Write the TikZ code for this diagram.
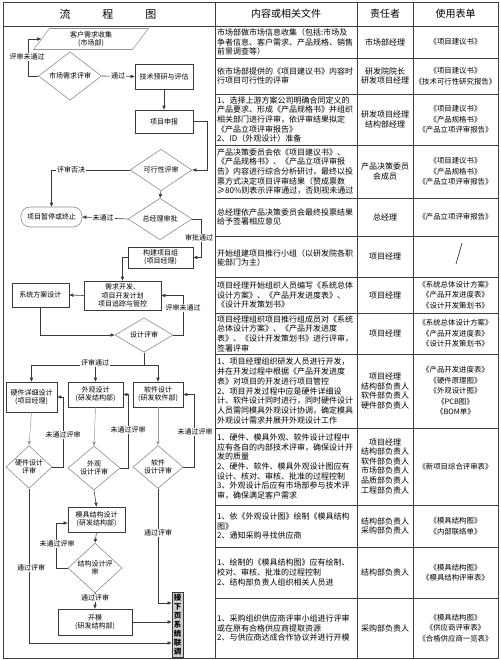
\documentclass[tikz,border=0pt]{standalone}
\usepackage{fontspec}
\setmainfont{Noto Sans CJK SC}
\usetikzlibrary{positioning,arrows.meta,shapes.geometric}
\definecolor{lnk}{HTML}{3A3A3A}
\definecolor{rim}{HTML}{8C8C8C}
\definecolor{shd}{HTML}{CFCFCF}
\newcommand{\flw}{\fontsize{7}{8.4}\selectfont}
\newcommand{\cel}{\fontsize{8}{9.7}\selectfont}
\newcommand{\frm}{\fontsize{7.4}{10.5}\selectfont}

\begin{document}
\begin{tikzpicture}[x=1pt,y=-1pt,
  grd/.style={draw=black!75,line width=0.8pt},
  hd/.style={font=\fontsize{10}{10}\selectfont,inner sep=0pt},
  box/.style={draw=lnk,line width=0.7pt,fill=white,align=center,font=\flw,inner sep=1pt},
  dia/.style={diamond,draw=rim,line width=0.6pt,fill=white,align=center,font=\flw,inner sep=0pt},
  term/.style={draw=rim,line width=0.6pt,rounded corners=9pt,align=center,font=\flw},
  arr/.style={draw=lnk,line width=0.6pt,-{Triangle[length=4pt,width=3.2pt]}},
  thin/.style={draw=black!40,line width=0.5pt,-{Triangle[length=4pt,width=3.2pt]}},
  lbl/.style={fill=white,font=\flw,inner sep=1pt},
  cell/.style={font=\cel,inner sep=0pt,align=left,anchor=west},
  who/.style={font=\fontsize{8}{9.6}\selectfont,inner sep=0pt,align=center},
  doc/.style={font=\frm,inner sep=0pt,align=center}]
  \useasboundingbox (0,0) rectangle (500,660);
  % table frame
  \draw[grd] (3,2) rectangle (498,658);
  \draw[grd] (3,26) -- (498,26);
  \foreach \x in {215,357,413} \draw[grd] (\x,2) -- (\x,658);
  \foreach \y in {58,94,145,198,236,277,313,354,428,505,547,598}
    \draw[grd] (215,\y) -- (498,\y);
  \node[font=\fontsize{11}{11}\selectfont,inner sep=0pt] (h0) at (108,14) {流\hspace{32pt}程\hspace{32pt}图};
  \node[hd] (h1) at (286,14) {内容或相关文件};
  \node[hd] (h2) at (385,14) {责任者};
  \node[hd] (h3) at (455.5,14) {使用表单};

  % flow chart
  \node[trapezium,trapezium left angle=63,trapezium right angle=117,trapezium stretches=true,
    draw=black!40,line width=0.6pt,minimum width=115pt,minimum height=21pt,inner sep=0pt,
    align=center,font=\flw] (need) at (91,39) {客户需求收集\\(市场部)};
  \node[dia,minimum width=63pt,minimum height=26pt] (mkt) at (70,76) {市场需求评审};
  \node[box,minimum width=58pt,minimum height=25pt] (pre) at (164,76.5) {技术预研与评估};
  \node[box,minimum width=58pt,minimum height=23pt] (app) at (164,121.5) {项目申报};
  \node[dia,minimum width=62pt,minimum height=30pt] (feas) at (161,170) {可行性评审};
  \node[term,minimum width=61pt,minimum height=20pt] (stop) at (51.5,217) {项目暂停或终止};
  \node[dia,minimum width=64pt,minimum height=32pt] (gm) at (160,219) {总经理审批};
  \node[box,minimum width=65pt,minimum height=21pt] (team) at (160.5,257.5) {构建项目组\\(项目经理)};
  \node[box,minimum width=77pt,minimum height=29pt] (dev) at (122.5,295.5) {需求开发、\\项目开发计划\\项目追踪与管控};
  \node[box,minimum width=57pt,minimum height=24pt] (sys) at (40.5,295) {系统方案设计};
  \node[dia,minimum width=58pt,minimum height=29pt] (drv) at (144,335) {设计评审};
  \node[box,minimum width=51pt,minimum height=30pt] (hw) at (31.5,397) {硬件详细设计\\(项目经理)};
  \node[box,minimum width=55pt,minimum height=25pt] (od) at (95.5,394.5) {外观设计\\(研发结构部)};
  \node[box,minimum width=50pt,minimum height=25pt] (sw) at (158,394.5) {软件设计\\(研发软件部)};
  \node[dia,minimum width=46pt,minimum height=41pt] (hwr) at (29,467) {硬件设计\\评审};
  \node[dia,minimum width=52pt,minimum height=44pt] (odr) at (94,468) {外观\\设计评审};
  \node[dia,minimum width=50pt,minimum height=41pt] (swr) at (158,467) {软件\\设计评审};
  \node[box,minimum width=57pt,minimum height=25pt] (mold) at (96.5,519.5) {模具结构设计\\(研发结构部)};
  \node[dia,minimum width=54pt,minimum height=39pt] (mr) at (95,568) {结构设计评\\审};
  \node[box,minimum width=74pt,minimum height=26pt] (open) at (95,622) {开模\\(研发结构部)};
  \node[box,fill=shd,minimum width=11pt,minimum height=65pt,inner sep=0pt,
    font=\fontsize{7.5}{9}\selectfont\bfseries] (next) at (177.5,624.5) {接\\下\\页\\系\\统\\联\\调};

  \draw[arr] (mkt.west) -- ++(-10,0) |- (need.west);
  \draw[arr] (mkt.east) -- (pre.west);
  \draw[arr] (pre.south) -- (app.north);
  \draw[arr] (app.east) -- ++(14,0) |- (feas.east);
  \draw[arr] (feas.west) -| (stop.north);
  \draw[arr] (feas.south) -- (gm.north);
  \draw[arr] (gm.west) -- (stop.east);
  \draw[arr] (gm.east) -- ++(9,0) |- (team.east);
  \draw[arr] (team.west) -| (dev.north);
  \draw[arr] (dev.west) -- (sys.east);
  \draw[arr] (sys.south) |- (drv.west);
  \draw[arr] (drv.east) -- ++(10,0) |- (dev.east);
  \draw[lnk,line width=0.6pt] (drv.south) -- ++(0,13) coordinate (sp);
  \draw[arr] (sp) -| (hw.north);
  \draw[arr] (sp) -| (od.north);
  \draw[arr] (sp) -| (sw.north);
  \draw[thin] (hw.south) -- (hwr.north);
  \draw[thin] (od.south) -- (odr.north);
  \draw[thin] (sw.south) -- (swr.north);
  \draw[arr] (hwr.east) -- ++(11,0) |- (hw.east);
  \draw[arr] (odr.east) -- ++(8,0) |- (od.east);
  \draw[arr] (swr.east) -- ++(11,0) |- (sw.east);
  \draw[arr] (odr.south) -- (mold.north);
  \draw[arr] (mold.south) -- (mr.north);
  \draw[arr] (mr.west) -- ++(-11,0) |- ([yshift=-3.5pt]mold.west);
  \draw[arr] (mr.south) -- (open.north);
  \draw[arr] (hwr.south) |- ([yshift=-18.5pt]next.west);
  \draw[arr] (open.east) -- (open.east -| next.west);
  \draw[arr] (swr.south) |- ([yshift=21.5pt]next.west);

  \node[lbl] (l1) at (27,57) {评审未通过};
  \node[lbl] (l2) at (118,76) {通过};
  \node[lbl] (l3) at (71,170) {评审否决};
  \node[lbl] (l4) at (103,218) {未通过};
  \node[lbl] (l5) at (199,238) {审批通过};
  \node[lbl] (l6) at (183,308) {评审未通过};
  \node[lbl] (l7) at (95,363) {评审通过};
  \node[lbl] (l8) at (63,435) {未通过评审};
  \node[lbl] (l9) at (128,430) {未通过评审};
  \node[lbl] (l10) at (195,432) {未通过评审};
  \node[lbl] (l11) at (57,544) {未通过评审};
  \node[lbl] (l12) at (95,598) {通过评审};
  \node[lbl] (l13) at (31,568) {通过评审};
  \node[lbl] (l14) at (158,533) {通过评审};

  % content column
  \node[cell] (t1) at (217,42) {市场部做市场信息收集（包括:市场及\\争者信息、客户需求、产品规格、销售\\前景调查等）};
  \node[cell] (t2) at (217,76) {依市场部提供的《项目建议书》内容时\\行项目可行性的评审};
  \node[cell] (t3) at (217,119.5) {1、选择上游方案公司明确合同定义的\\产品要求、形成《产品规格书》并组织\\相关部门进行评审，依评审结果拟定\\《产品立项评审报告》\\2、ID（外观设计）准备};
  \node[cell] (t4) at (217,171.5) {产品决策委员会依《项目建议书》、\\《产品规格书》、《产品立项评审报\\告》内容进行综合分析研讨，最终以投\\票方式决定项目评审结果（赞成票数\\≥80\%则表示评审通过，否则视未通过};
  \node[cell] (t5) at (217,217) {总经理依产品决策委员会最终投票结果\\给予签署相应意见};
  \node[cell] (t6) at (217,258) {开始组建项目推行小组（以研发院各职\\能部门为主）};
  \node[cell] (t7) at (217,295) {项目经理开始组织人员编写《系统总体\\设计方案》、《产品开发进度表》、\\《设计开发策划书》};
  \node[cell] (t8) at (217,333.5) {项目经理组织项目推行组成员对《系统\\总体设计方案》、《产品开发进度\\表》、《设计开发策划书》进行评审，\\签署评审};
  \node[cell] (t9) at (217,391) {1、项目经理组织研发人员进行开发，\\并在开发过程中根据《产品开发进度\\表》对项目的开发进行项目管控\\2、项目开发过程中应是硬件详细设\\计、软件设计同时进行，同时硬件设计\\人员需同模具外观设计协调，确定模具\\外观设计需求并展开外观设计工作};
  \node[cell] (t10) at (217,466.5) {1、硬件、模具外观、软件设计过程中\\应有各自的内部技术评审，确保设计开\\发的质量\\2、硬件、软件、模具外观设计图应有\\设计、核对、审核、批准的过程控制\\3、外观设计后应有市场部参与技术评\\审，确保满足客户需求};
  \node[cell] (t11) at (217,526) {1、依《外观设计图》绘制《模具结构\\图》\\2、通知采购寻找供应商};
  \node[cell] (t12) at (217,572.5) {1、绘制的《模具结构图》应有绘制、\\校对、审核、批准的过程控制\\2、结构部负责人组织相关人员进};
  \node[cell] (t13) at (217,628) {1、采购组织供应商评审小组进行评审\\或在原有合格供应商提取资源\\2、与供应商达成合作协议并进行开模};

  % responsible column
  \node[who] (p1) at (385,42) {市场部经理};
  \node[who] (p2) at (385,76) {研发院院长\\研发项目经理};
  \node[who] (p3) at (385,119.5) {研发项目经理\\结构部经理};
  \node[who] (p4) at (385,171.5) {产品决策委员\\会成员};
  \node[who] (p5) at (385,217) {总经理};
  \node[who] (p6) at (385,256.5) {项目经理};
  \node[who] (p7) at (385,295) {项目经理};
  \node[who] (p8) at (385,333.5) {项目经理};
  \node[who] (p9) at (385,391) {项目经理\\结构部负责人\\软件部负责人\\硬件部负责人};
  \node[who] (p10) at (385,466) {项目经理\\结构部负责人\\软件部负责人\\市场部负责人\\品质部负责人\\工程部负责人};
  \node[who] (p11) at (385,526) {结构部负责人\\采购部负责人};
  \node[who] (p12) at (385,572.5) {结构部负责人};
  \node[who] (p13) at (385,628) {采购部负责人};

  % forms column
  \node[doc] (f1) at (455.5,42) {《项目建议书》};
  \node[doc] (f2) at (455.5,76) {《项目建议书》\\《技术可行性研究报告》};
  \node[doc] (f3) at (455.5,119.5) {《项目建议书》\\《产品规格书》\\《产品立项评审报告》};
  \node[doc] (f4) at (455.5,171.5) {《项目建议书》\\《产品规格书》\\《产品立项评审报告》};
  \node[doc] (f5) at (455.5,217) {《产品立项评审报告》};
  \draw[black!80,line width=0.7pt] (456,264) -- (462,243);
  \node[doc] (f7) at (455.5,295) {《系统总体设计方案》\\《产品开发进度表》\\《设计开发策划书》};
  \node[doc] (f8) at (455.5,333.5) {《系统总体设计方案》\\《产品开发进度表》\\《设计开发策划书》};
  \node[doc] (f9) at (455.5,391) {《产品开发进度表》\\《硬件原理图》\\《外观设计图》\\《PCB图》\\《BOM单》};
  \node[doc] (f10) at (455.5,466.5) {《新项目综合评审表》};
  \node[doc] (f11) at (455.5,526) {《模具结构图》\\《内部联络单》};
  \node[doc] (f12) at (455.5,572.5) {《模具结构图》\\《模具结构评审表》};
  \node[doc] (f13) at (455.5,628) {《模具结构图》\\《供应商评审表》\\《合格供应商一览表》};
\end{tikzpicture}
\end{document}
